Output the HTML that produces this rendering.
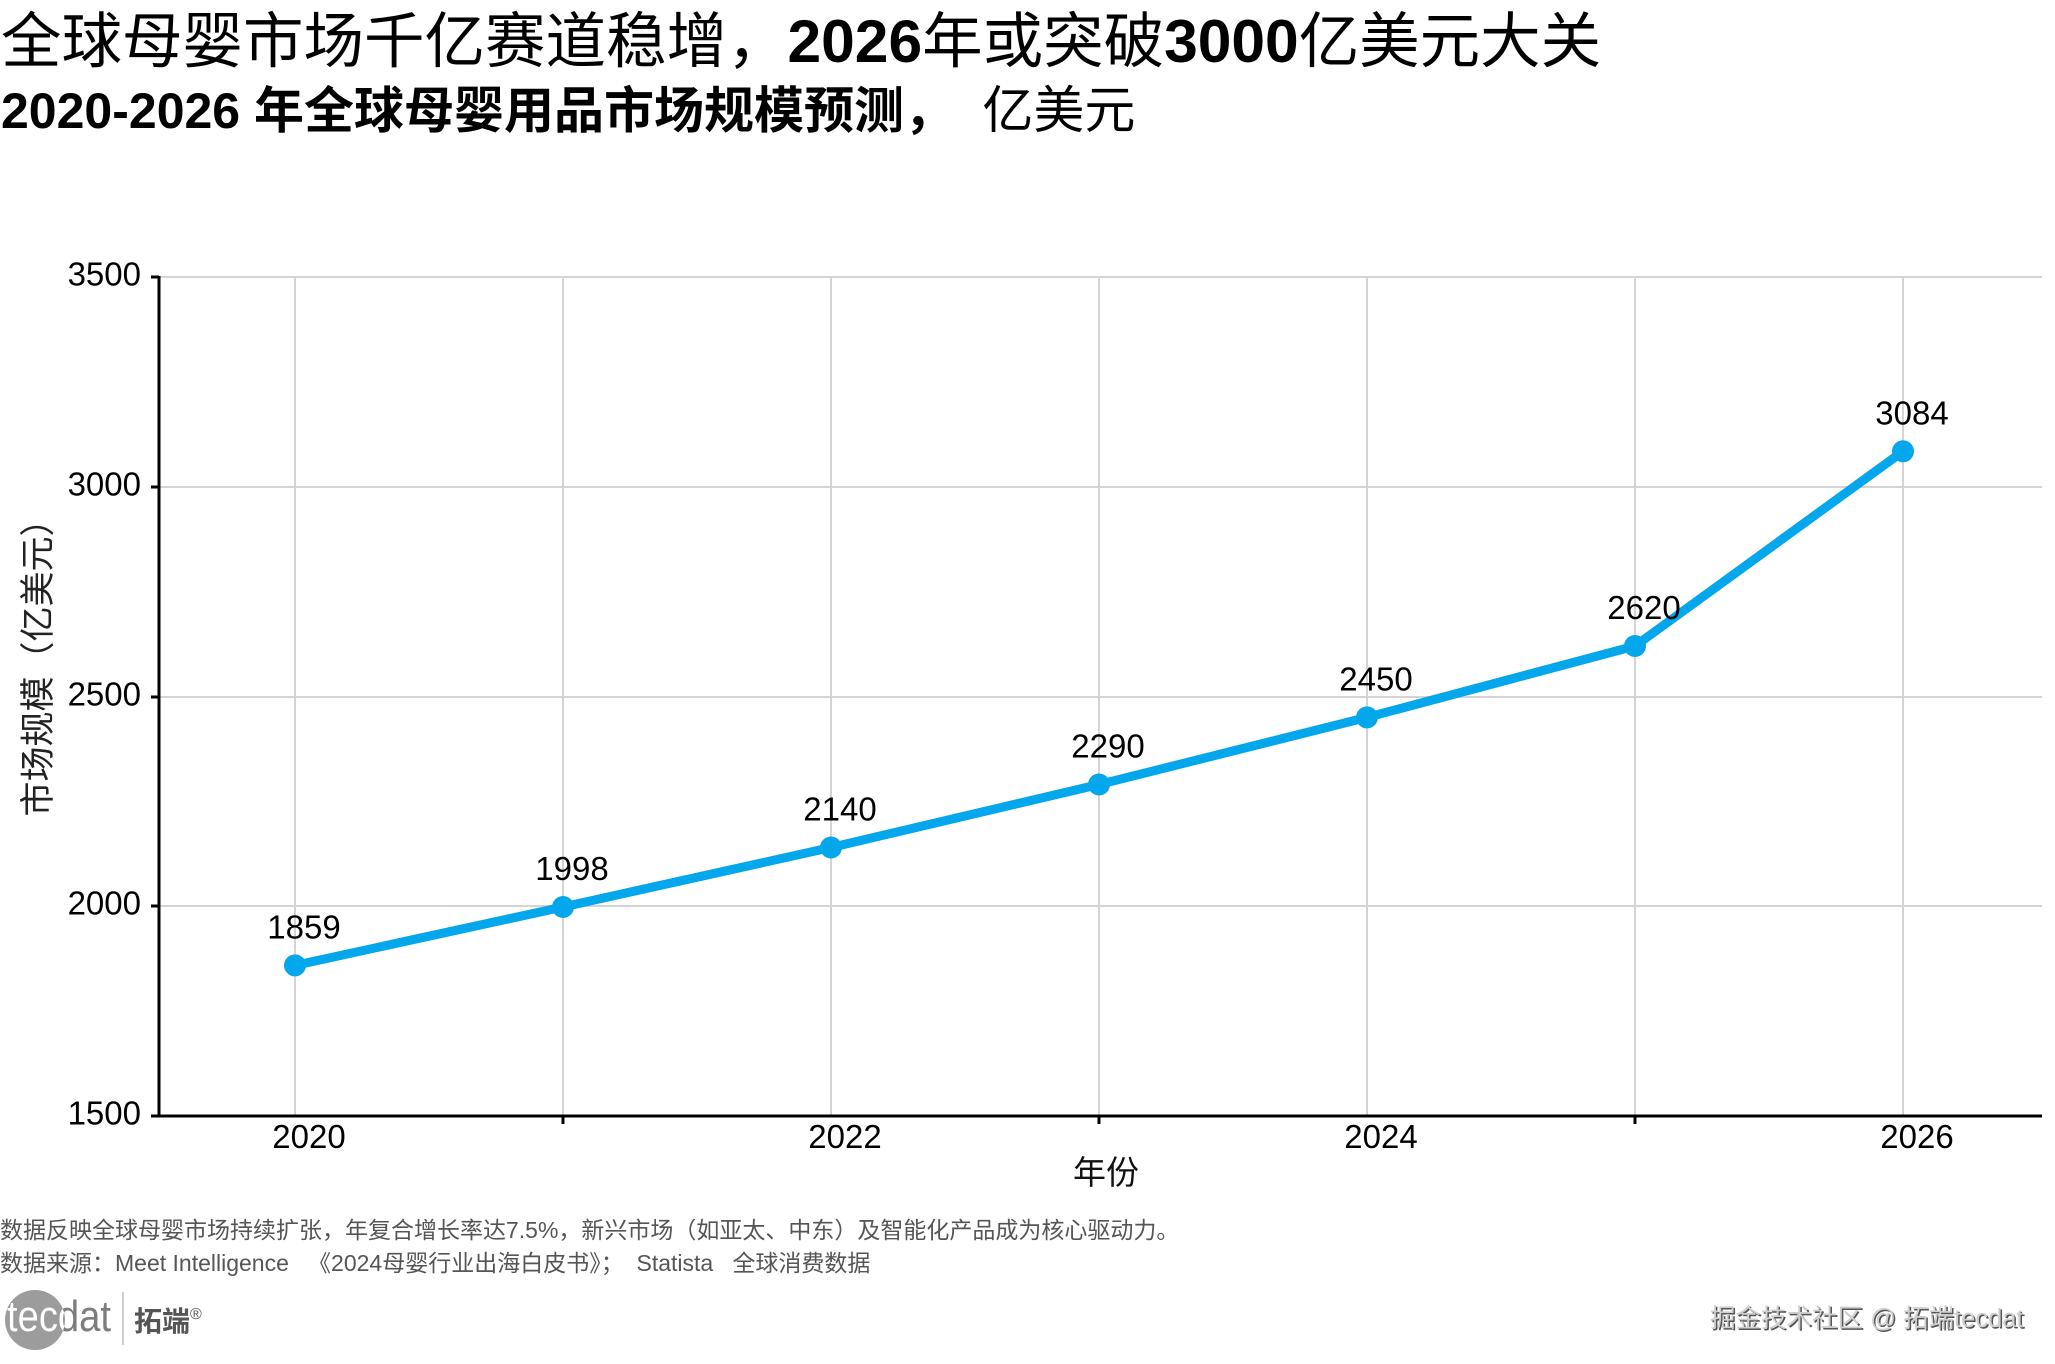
<!DOCTYPE html>
<html>
<head>
<meta charset="utf-8">
<style>
  html, body { margin: 0; padding: 0; background: #ffffff; }
  body { width: 2055px; height: 1364px; overflow: hidden; }
  svg { display: block; }
  text { font-family: "Liberation Sans", "Noto Sans CJK SC", sans-serif; }
</style>
</head>
<body>
<svg xmlns="http://www.w3.org/2000/svg" width="2055" height="1364" viewBox="0 0 2055 1364">
  <rect x="0" y="0" width="2055" height="1364" fill="#ffffff"/>

  <!-- Titles -->
  <text x="1" y="62" font-size="60.5" fill="#000">全球母婴市场千亿赛道稳增，<tspan font-weight="bold">2026</tspan>年或突破<tspan font-weight="bold">3000</tspan>亿美元大关</text>
  <text x="1" y="128" font-size="50" font-weight="bold" fill="#000" xml:space="preserve">2020-2026 年全球母婴用品市场规模预测，<tspan font-weight="normal" font-size="51">  亿美元</tspan></text>

  <!-- Gridlines -->
  <g stroke="#d4d4d4" stroke-width="2">
    <line x1="159" y1="277" x2="2042" y2="277"/>
    <line x1="159" y1="487" x2="2042" y2="487"/>
    <line x1="159" y1="697" x2="2042" y2="697"/>
    <line x1="159" y1="906" x2="2042" y2="906"/>
    <line x1="295" y1="277" x2="295" y2="1116"/>
    <line x1="563" y1="277" x2="563" y2="1116"/>
    <line x1="831" y1="277" x2="831" y2="1116"/>
    <line x1="1099" y1="277" x2="1099" y2="1116"/>
    <line x1="1367" y1="277" x2="1367" y2="1116"/>
    <line x1="1635" y1="277" x2="1635" y2="1116"/>
    <line x1="1903" y1="277" x2="1903" y2="1116"/>
  </g>

  <!-- Axes -->
  <g stroke="#000" stroke-width="3">
    <line x1="159" y1="276" x2="159" y2="1117.5"/>
    <line x1="157.5" y1="1116" x2="2042" y2="1116"/>
    <!-- y ticks -->
    <line x1="151" y1="277" x2="159" y2="277"/>
    <line x1="151" y1="487" x2="159" y2="487"/>
    <line x1="151" y1="697" x2="159" y2="697"/>
    <line x1="151" y1="906" x2="159" y2="906"/>
    <line x1="151" y1="1116" x2="159" y2="1116"/>
    <!-- x minor ticks -->
    <line x1="563" y1="1116" x2="563" y2="1124"/>
    <line x1="1099" y1="1116" x2="1099" y2="1124"/>
    <line x1="1635" y1="1116" x2="1635" y2="1124"/>
  </g>

  <!-- Y tick labels -->
  <g font-size="33" fill="#000" text-anchor="end">
    <text x="141" y="285.5">3500</text>
    <text x="141" y="495.5">3000</text>
    <text x="141" y="705.5">2500</text>
    <text x="141" y="914.5">2000</text>
    <text x="141" y="1124.5">1500</text>
  </g>

  <!-- X tick labels -->
  <g font-size="33" fill="#000" text-anchor="middle">
    <text x="309" y="1148">2020</text>
    <text x="845" y="1148">2022</text>
    <text x="1381" y="1148">2024</text>
    <text x="1917" y="1148">2026</text>
  </g>

  <!-- Axis titles -->
  <text x="1106" y="1184" font-size="33" fill="#111" text-anchor="middle">年份</text>
  <text x="0" y="0" font-size="35" fill="#222" text-anchor="middle" transform="translate(50,659) rotate(-90)">市场规模（亿美元）</text>

  <!-- Series -->
  <polyline points="295,965.4 563,907.0 831,847.5 1099,784.5 1367,717.4 1635,646.0 1903,451.3"
            fill="none" stroke="#04a6ec" stroke-width="9" stroke-linejoin="round" stroke-linecap="round"/>
  <g fill="#04a6ec">
    <circle cx="295" cy="965.4" r="11"/>
    <circle cx="563" cy="907.0" r="11"/>
    <circle cx="831" cy="847.5" r="11"/>
    <circle cx="1099" cy="784.5" r="11"/>
    <circle cx="1367" cy="717.4" r="11"/>
    <circle cx="1635" cy="646.0" r="11"/>
    <circle cx="1903" cy="451.3" r="11"/>
  </g>

  <!-- Data labels -->
  <g font-size="33" fill="#000" text-anchor="middle">
    <text x="304" y="938.4">1859</text>
    <text x="572" y="880.0">1998</text>
    <text x="840" y="820.5">2140</text>
    <text x="1108" y="757.5">2290</text>
    <text x="1376" y="690.4">2450</text>
    <text x="1644" y="619.0">2620</text>
    <text x="1912" y="424.3">3084</text>
  </g>

  <!-- Footer notes -->
  <g font-size="23" fill="#555">
    <text x="0" y="1238">数据反映全球母婴市场持续扩张，年复合增长率达7.5%，新兴市场（如亚太、中东）及智能化产品成为核心驱动力。</text>
    <text x="0" y="1271" xml:space="preserve">数据来源：Meet Intelligence   《2024母婴行业出海白皮书》；  Statista   全球消费数据</text>
  </g>

  <!-- Logo -->
  <defs>
    <clipPath id="logoclip"><circle cx="35" cy="1320" r="30"/></clipPath>
  </defs>
  <circle cx="35" cy="1320" r="30" fill="#9c9c9c"/>
  <text x="7" y="1331" font-size="44" fill="#7d7d7d" textLength="104" lengthAdjust="spacingAndGlyphs">tecdat</text>
  <g clip-path="url(#logoclip)">
    <text x="7" y="1331" font-size="44" fill="#ffffff" textLength="104" lengthAdjust="spacingAndGlyphs">tecdat</text>
  </g>
  <line x1="123" y1="1292" x2="123" y2="1345" stroke="#bdbdbd" stroke-width="1.5"/>
  <text x="134" y="1331" font-size="28" font-weight="bold" fill="#555">拓端<tspan font-size="16" font-weight="normal" dy="-12">®</tspan></text>

  <!-- Watermark -->
  <text x="1711.5" y="1328.5" font-size="25.5" fill="#555" xml:space="preserve">掘金技术社区 @ 拓端tecdat</text>
  <text x="1710" y="1327" font-size="25.5" fill="#cfcfcf" xml:space="preserve">掘金技术社区 @ 拓端tecdat</text>
</svg>
</body>
</html>
